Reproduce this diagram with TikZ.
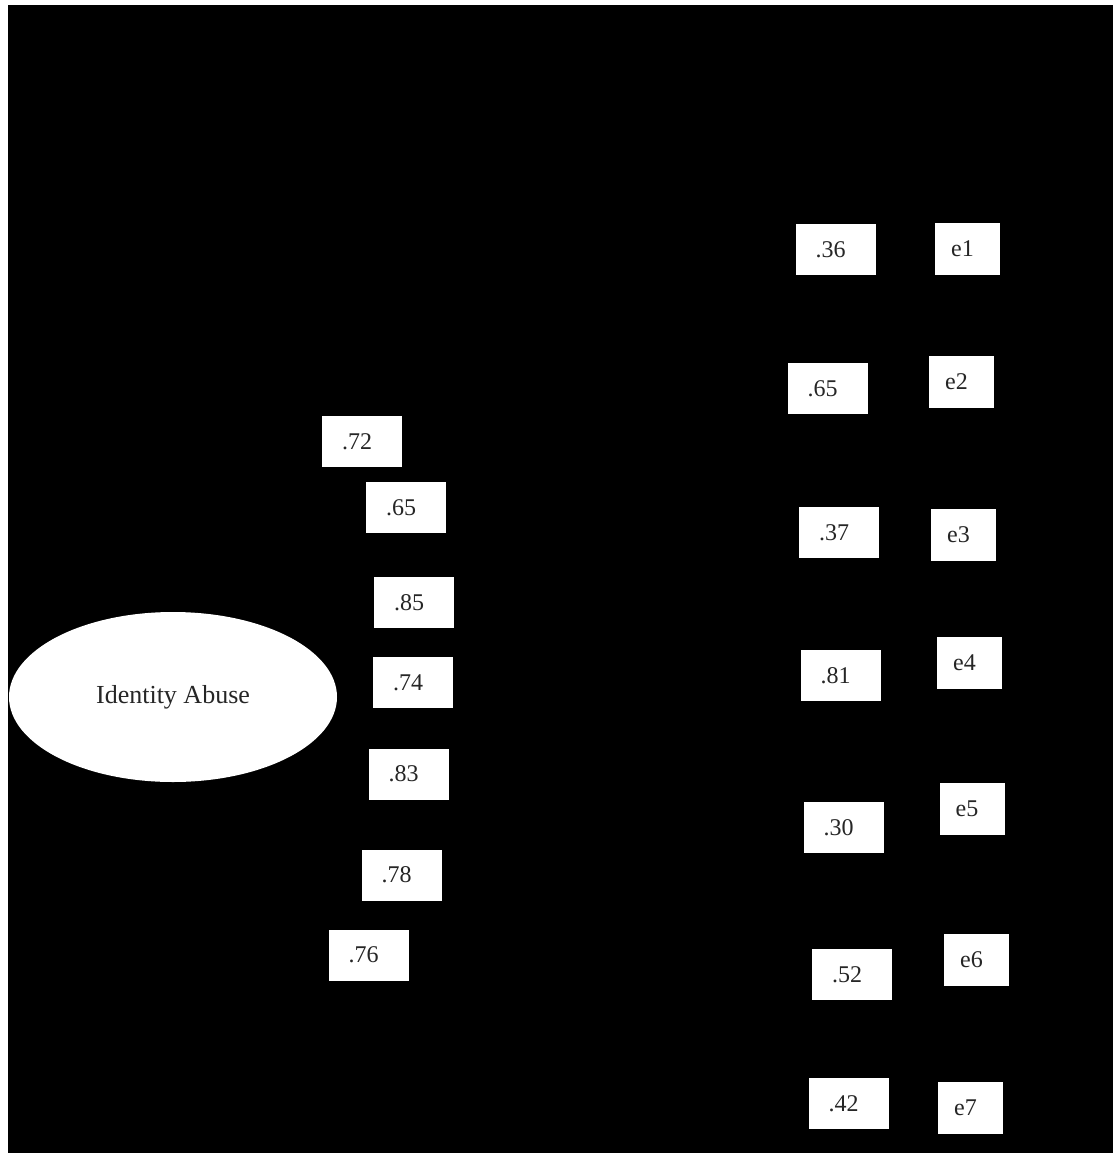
\documentclass[tikz,border=0pt]{standalone}
\usepackage{fontspec}
\setmainfont{Liberation Serif}
\usetikzlibrary{shapes.geometric}
\tikzset{
  numbox/.style={rectangle, fill=white, draw=none, minimum width=80pt, minimum height=51pt, inner sep=0pt, font=\fontsize{24}{28}\selectfont, text=black!85},
  ebox/.style={rectangle, fill=white, draw=none, minimum width=65pt, minimum height=52pt, inner sep=0pt, font=\fontsize{24}{28}\selectfont, text=black!85},
  latent/.style={ellipse, fill=white, draw=none, minimum width=328pt, minimum height=170pt, inner sep=0pt, font=\fontsize{26}{30}\selectfont, text=black!85}
}
\newcommand{\lsh}[1]{#1\hspace*{10pt}}
\begin{document}
\begin{tikzpicture}[x=1pt,y=-1pt]
\useasboundingbox (0,0) rectangle (1113,1153);
\fill[white] (0,0) rectangle (1113,1153);
\fill[black] (8,5) rectangle (1113,1153);
% latent variable
\node[latent] (ia) at (173,697) {Identity Abuse};
% loadings
\node[numbox] (l1) at (362,441.5) {\lsh{.72}};
\node[numbox] (l2) at (406,507.5) {\lsh{.65}};
\node[numbox] (l3) at (414,602.5) {\lsh{.85}};
\node[numbox] (l4) at (413,682.5) {\lsh{.74}};
\node[numbox] (l5) at (408.5,774) {\lsh{.83}};
\node[numbox] (l6) at (401.5,875) {\lsh{.78}};
\node[numbox] (l7) at (368.5,955) {\lsh{.76}};
% R squared
\node[numbox] (r1) at (835.5,249.5) {\lsh{.36}};
\node[numbox] (r2) at (827.5,388.5) {\lsh{.65}};
\node[numbox] (r3) at (839,532.5) {\lsh{.37}};
\node[numbox] (r4) at (840.5,675.5) {\lsh{.81}};
\node[numbox] (r5) at (843.5,827.5) {\lsh{.30}};
\node[numbox] (r6) at (852,974.5) {\lsh{.52}};
\node[numbox] (r7) at (848.5,1103.5) {\lsh{.42}};
% errors
\node[ebox] (e1) at (967.5,249) {\lsh{e1}};
\node[ebox] (e2) at (961.5,382) {\lsh{e2}};
\node[ebox] (e3) at (963.5,534.5) {\lsh{e3}};
\node[ebox] (e4) at (969.5,663) {\lsh{e4}};
\node[ebox] (e5) at (972,808.5) {\lsh{e5}};
\node[ebox] (e6) at (976.5,960) {\lsh{e6}};
\node[ebox] (e7) at (970.5,1107.5) {\lsh{e7}};
\end{tikzpicture}
\end{document}
